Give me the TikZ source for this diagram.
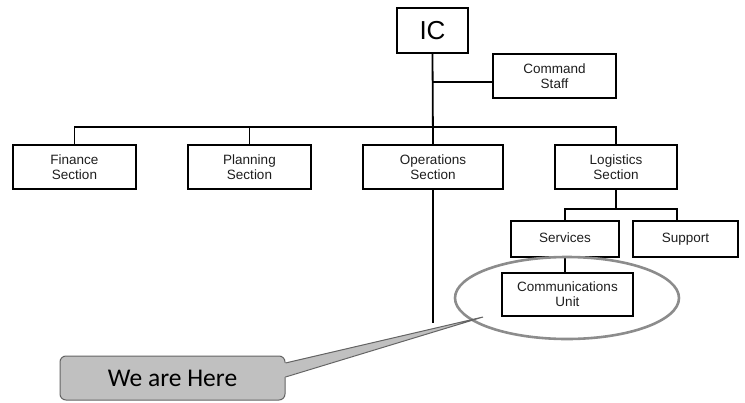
\documentclass[tikz,border=0pt]{standalone}
\usepackage{fontspec}
\setmainfont{Liberation Sans}
\newfontfamily\calloutfont{Carlito}
\usetikzlibrary{shapes.geometric}
\definecolor{boxtext}{RGB}{30,30,30}
\definecolor{ringgray}{RGB}{140,140,140}
\definecolor{callgray}{RGB}{192,192,192}
\definecolor{calledge}{RGB}{100,100,100}
\begin{document}
\begin{tikzpicture}[x=1pt,y=-1pt,
    unit/.style={draw,line width=1.8pt,inner sep=0pt,align=center,text=boxtext,
      font=\fontsize{13.5}{15}\selectfont,minimum height=44pt},
    oneline/.style={text height=10pt,text depth=3pt},
    link/.style={line width=1.8pt},
    ring/.style={draw=ringgray,ellipse,line width=2.6pt,inner sep=0pt},
    callbox/.style={draw=calledge,fill=callgray,rounded corners=6pt,line width=1pt,
      inner sep=0pt,minimum width=225pt,minimum height=44pt,font=\calloutfont\fontsize{25.5}{28}\selectfont}]

      \useasboundingbox (0,0) rectangle (745,402);

      \node[unit,minimum width=71pt,minimum height=45pt,font=\fontsize{26}{28}\selectfont,text=black] (IC) at (432.5,30.5) {IC};
      \node[unit,minimum width=123pt] (staff) at (554.5,76) {Command\\Staff};
      \node[unit,minimum width=123pt] (fin) at (74.5,167) {Finance\\Section};
      \node[unit,minimum width=123pt] (plan) at (249.5,167) {Planning\\Section};
      \node[unit,minimum width=140pt] (ops) at (433,167) {Operations\\Section};
      \node[unit,minimum width=122pt] (log) at (616,167) {Logistics\\Section};
      \node[unit,oneline,minimum width=108pt,minimum height=36pt] (serv) at (565,239) {Services};
      \node[unit,oneline,minimum width=105pt,minimum height=36pt] (supp) at (685.5,239) {Support};
      \node[unit,minimum width=131pt,minimum height=43pt] (comm) at (567.5,294.5) {Communications\\Unit};

      \coordinate (bus) at (433,127);
      \coordinate (staffjoin) at (433,82);
      \coordinate (trunkend) at (433,323);
      \coordinate (logbus) at (616,209);
      \coordinate (suppdrop) at (677,209);

      \draw[link] (IC.south) -- (ops.north);
      \draw[link] (staffjoin) -- (staffjoin -| staff.west);
      \draw[link] (fin.north) |- (bus) -| (log.north);
      \draw[link] (plan.north) -- (plan.north |- bus);
      \draw[link] (ops.south) -- (trunkend);
      \draw[link] (log.south) -- (logbus);
      \draw[link] (serv.north) |- (suppdrop) -- (suppdrop |- supp.north);
      \draw[link] (serv.south) -- (serv.south |- comm.north);

      \node[ring,minimum width=224pt,minimum height=82pt] (here) at (567,298) {};

      % callout
      \node[callbox] (we) at (172.5,378) {We are Here};
      \coordinate (tip) at (483,317);
      \fill[callgray] ([shift={(-1.5pt,15pt)}]we.east) -- (tip) -- ([shift={(-1.5pt,1pt)}]we.east) -- cycle;
      \draw[calledge,line width=1pt] ([yshift=15pt]we.east) -- (tip) -- ([yshift=1pt]we.east);

    \end{tikzpicture}
\end{document}
